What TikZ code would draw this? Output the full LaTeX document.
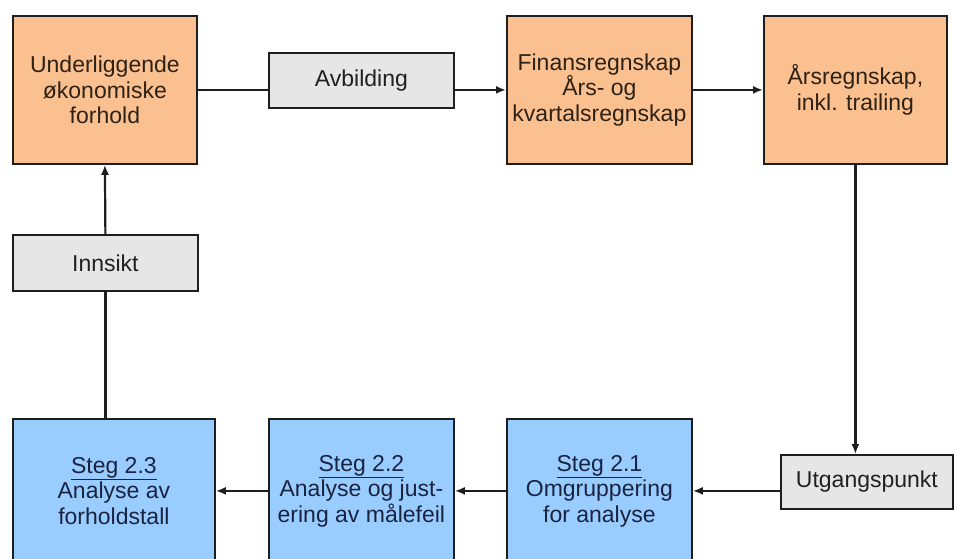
\documentclass[tikz,border=0pt]{standalone}
\usepackage{fontspec}
\setmainfont{Liberation Sans}
\usetikzlibrary{arrows.meta}
\definecolor{peach}{HTML}{FAC08F}
\definecolor{skyfill}{HTML}{99CCFF}
\definecolor{greyfill}{HTML}{E6E6E6}
\definecolor{edge}{HTML}{1E1E1E}
\definecolor{brownink}{HTML}{2E2216}
\definecolor{navyink}{HTML}{1A2440}
\definecolor{greyink}{HTML}{202020}
\begin{document}
\begin{tikzpicture}[x=1pt,y=-1pt,
  box/.style={draw=edge, line width=1.8pt, anchor=north west, inner sep=0pt,
    align=center, font=\fontsize{23}{25.5}\selectfont},
  finbox/.style={box, fill=peach, text=brownink},
  stepbox/.style={box, fill=skyfill, text=navyink},
  labelbox/.style={box, fill=greyfill, text=greyink},
  link/.style={draw=edge, line width=2.2pt},
  arr/.style={link, -{Latex[length=10pt,width=8pt]}}]
\useasboundingbox (0,0) rectangle (955,559);
\fill[white] (0,0) rectangle (955,559);
\clip (0,0) rectangle (955,559);

% top row
\node[finbox, minimum width=184pt, minimum height=148pt] (o1) at (12,15)
  {Underliggende\\økonomiske\\forhold};
\node[labelbox, minimum width=185pt, minimum height=55pt] (av) at (268,52)
  {Avbilding};
\node[finbox, minimum width=185pt, minimum height=148pt] (o2) at (506,15)
  {Finansregnskap\\Års- og\\kvartalsregnskap};
\node[finbox, minimum width=183pt, minimum height=148pt] (o3) at (763,15)
  {Årsregnskap,\\inkl. trailing};

% left column label
\node[labelbox, minimum width=185pt, minimum height=56pt] (in) at (12,234)
  {Innsikt};

% bottom row
\node[stepbox, minimum width=202pt, minimum height=144pt] (s3) at (12,418)
  {\underline{Steg 2.3}\\Analyse av\\forholdstall};
\node[stepbox, minimum width=185pt, minimum height=144pt] (s2) at (268,418)
  {\underline{Steg 2.2}\\Analyse og just-\\ering av målefeil};
\node[stepbox, minimum width=185pt, minimum height=144pt] (s1) at (506,418)
  {\underline{Steg 2.1}\\Omgruppering\\for analyse};
\node[labelbox, minimum width=172pt, minimum height=54pt] (ut) at (780,454)
  {Utgangspunkt};

% connectors
\draw[link] (o1.east) -- (o1.east -| av.west);
\draw[arr] (o1.east -| av.east) -- (o2.west);
\draw[arr] (o2.east) -- (o3.west);
\draw[arr] (o3.south) -- (o3.south |- ut.north);
\draw[arr] (s1.east -| ut.west) -- (s1.east);
\draw[arr] (s1.west) -- (s2.east);
\draw[arr] (s2.west) -- (s3.east);
\draw[link] (in.south |- s3.north) -- (in.south);
\draw[arr] (in.north) -- (o1.south);
\end{tikzpicture}
\end{document}
